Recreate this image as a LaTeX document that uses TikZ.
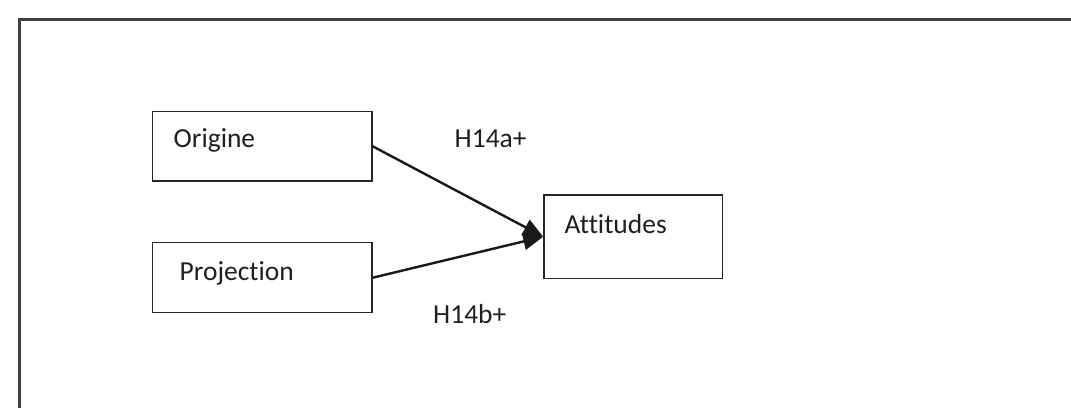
\documentclass[tikz,border=0pt]{standalone}
\usepackage{fontspec}
\setmainfont[RawFeature={-liga;-clig;-dlig}]{Carlito}
\usetikzlibrary{arrows.meta}
\begin{document}
\begin{tikzpicture}[x=1pt,y=-1pt,
  box/.style={draw=black!85, line width=1.5pt, rectangle, inner sep=0pt},
  txt/.style={anchor=base west, inner sep=0pt, text=black!88, font=\fontsize{27.5}{31}\selectfont},
  conn/.style={line width=2.4pt, black!90, -{Triangle[length=20pt,width=17pt]}, shorten >=0pt}]
\useasboundingbox (0,0) rectangle (1071,407);
\draw[line width=2.2pt, black!75] (19.5,440) -- (19.5,19.5) -- (1100,19.5);
\node[box, minimum width=219.3pt, minimum height=69.3pt] (ori) at (262.3,146.3) {};
\node[box, minimum width=219.3pt, minimum height=70pt] (pro) at (262.3,277.7) {};
\node[box, minimum width=178.7pt, minimum height=83.3pt] (att) at (633.3,236.7) {};
\node[txt] (orit) at (173.5,147.3) {Origine};
\node[txt] (prot) at (179.5,280.7) {Projection};
\node[txt] (attt) at (564.5,233.3) {Attitudes};
\node[txt] (ha) at (454.5,147.7) {H14a+};
\node[txt] (hb) at (433,323.3) {H14b+};
\draw[conn] (ori.east) -- (att.west);
\draw[conn] (pro.east) -- (att.west);
\end{tikzpicture}
\end{document}
